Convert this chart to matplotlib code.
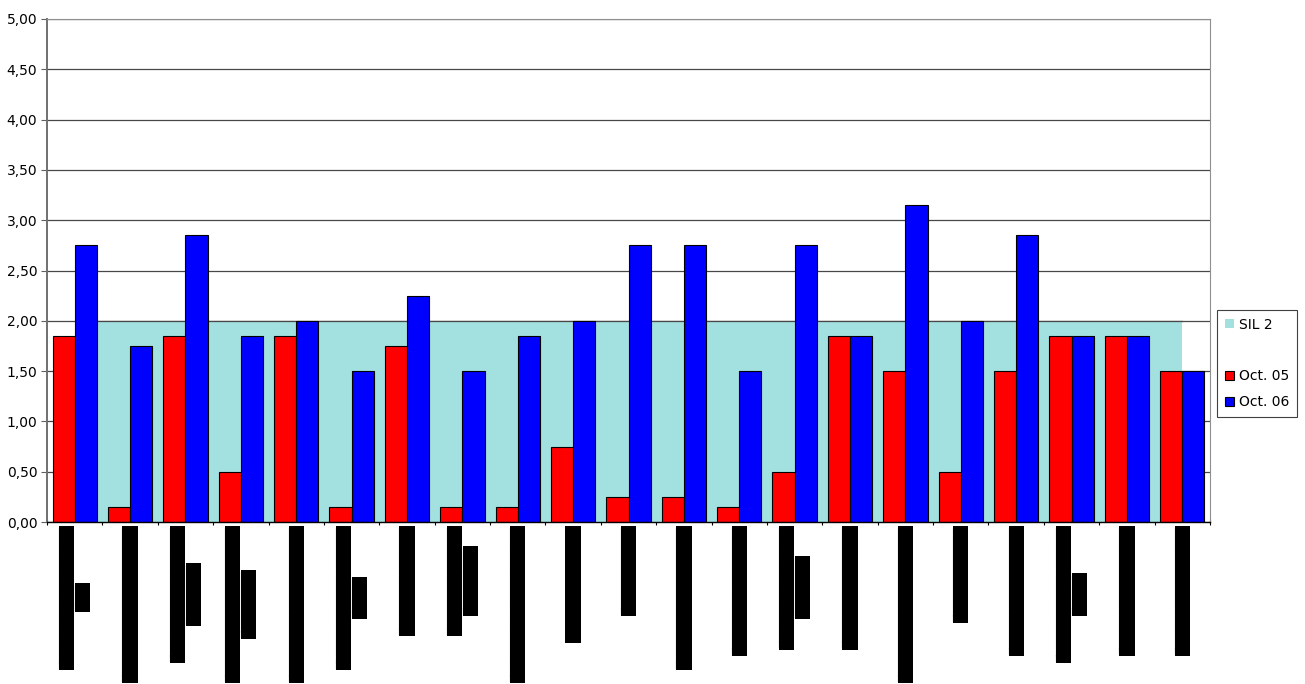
import matplotlib
matplotlib.use("Agg")
import matplotlib.pyplot as plt
import matplotlib.transforms as mtransforms
import numpy as np
from matplotlib.patches import Patch
from matplotlib.ticker import FuncFormatter, MultipleLocator

# Measured values per site (21 sites)
oct05 = [1.85, 0.15, 1.85, 0.50, 1.85, 0.15, 1.75, 0.15, 0.15, 0.75, 0.25,
         0.25, 0.15, 0.50, 1.85, 1.50, 0.50, 1.50, 1.85, 1.85, 1.50]
oct06 = [2.75, 1.75, 2.85, 1.85, 2.00, 1.50, 2.25, 1.50, 1.85, 2.00, 2.75,
         2.75, 1.50, 2.75, 1.85, 3.15, 2.00, 2.85, 1.85, 1.85, 1.50]
sil2 = [2.0, 2.0, 2.0, 2.0, 2.0, 2.0, 2.0, 2.0, 2.0, 2.0, 2.0,
        2.0, 2.0, 2.0, 2.0, 2.0, 2.0, 2.0, 2.0, 2.0, 2.0]

series_names = ["SIL 2", "Oct. 05", "Oct. 06"]

# Site names are redacted: each line is blacked out
R = "\u2588"
site_labels = [
    [R * 21, R * 4], [R * 23], [R * 20, R * 9], [R * 23, R * 10], [R * 23],
    [R * 21, R * 6], [R * 16], [R * 16, R * 10], [R * 23], [R * 17],
    [R * 13], [R * 21], [R * 19], [R * 18, R * 9], [R * 18],
    [R * 23], [R * 14], [R * 19], [R * 20, R * 6], [R * 19], [R * 19],
]

W, H, DPI = 1305, 684, 100
fig = plt.figure(figsize=(W / DPI, H / DPI), dpi=DPI)
fig.patch.set_facecolor("white")
ax = fig.add_axes([47 / W, 1 - 522 / H, (1210 - 47) / W, (522 - 19) / H])

grid_color = "#484848"
x = np.arange(len(oct05))

area = ax.fill_between(x, 0, sil2, color="#A3E0E0", lw=0, zorder=1)
ax.plot(x, sil2, color=grid_color, lw=0.9, zorder=1.1)
b1 = ax.bar(x - 0.2, oct05, 0.4, color="#FF0000", edgecolor="black",
            linewidth=0.8, zorder=2)
b2 = ax.bar(x + 0.2, oct06, 0.4, color="#0000FF", edgecolor="black",
            linewidth=0.8, zorder=2)

ax.set_xlim(-0.5, len(x) - 0.5)
ax.set_ylim(0, 5)
ax.yaxis.set_major_locator(MultipleLocator(0.5))
ax.yaxis.set_major_formatter(FuncFormatter(lambda v, p: f"{v:.2f}".replace(".", ",")))
ax.grid(axis="y", color=grid_color, lw=0.9, zorder=0)
ax.set_axisbelow(True)

ax.set_xticks(np.arange(-0.5, len(x), 1.0))
ax.set_xticklabels([])
ax.tick_params(axis="x", direction="inout", length=5, width=0.8, color="black")
ax.tick_params(axis="y", direction="out", length=4, width=0.8, color="#606060",
               labelsize=10, pad=3)
for lab in ax.get_yticklabels():
    lab.set_family("DejaVu Sans")

ax.spines["left"].set_color("#707070")
ax.spines["left"].set_linewidth(1.4)
ax.spines["bottom"].set_color("black")
ax.spines["bottom"].set_linewidth(1.0)
ax.spines["right"].set_color("#909090")
ax.spines["right"].set_linewidth(0.8)
ax.spines["top"].set_color("#909090")
ax.spines["top"].set_linewidth(0.8)

# Redacted category labels, rotated, one black block per text line
trans = mtransforms.blended_transform_factory(ax.transData, ax.transAxes)
line_step_pt = 16 * 72 / DPI
top_gap_pt = 5 * 72 / DPI
renderer = fig.canvas.get_renderer()
for i, lines in enumerate(site_labels):
    n = len(lines)
    placed = []
    for j, s in enumerate(lines):
        dx = (j - (n - 1) / 2) * line_step_pt
        tr = trans + mtransforms.ScaledTranslation(dx / 72, -top_gap_pt / 72,
                                                   fig.dpi_scale_trans)
        t = ax.text(i, 0, s, transform=tr, rotation=90, ha="center", va="top",
                    fontsize=8, family="DejaVu Sans Mono", color="black",
                    bbox=dict(boxstyle="square,pad=0.1", fc="black", ec="none"),
                    clip_on=False)
        placed.append((t, tr))
    if n > 1:
        exts = [t.get_window_extent(renderer) for t, _ in placed]
        longest = max(range(n), key=lambda k: exts[k].height)
        cy = (exts[longest].y0 + exts[longest].y1) / 2
        for k, (t, tr) in enumerate(placed):
            if k == longest:
                continue
            dy = cy - (exts[k].y0 + exts[k].y1) / 2
            t.set_transform(tr + mtransforms.ScaledTranslation(0, dy / DPI,
                                                               fig.dpi_scale_trans))

blank = Patch(facecolor="none", edgecolor="none")
leg = fig.legend([area, blank, b1, b2],
                 [series_names[0], " ", series_names[1], series_names[2]],
                 loc="upper left", bbox_to_anchor=(1217 / W, 1 - 310 / H),
                 frameon=True, fancybox=False, edgecolor="#404040",
                 framealpha=1, handlelength=0.65, handleheight=0.65,
                 handletextpad=0.4, labelspacing=0.85, borderpad=0.55,
                 borderaxespad=0, prop={"family": "DejaVu Sans", "size": 10})
leg.get_frame().set_linewidth(0.8)

fig.savefig("out.png", dpi=DPI)
